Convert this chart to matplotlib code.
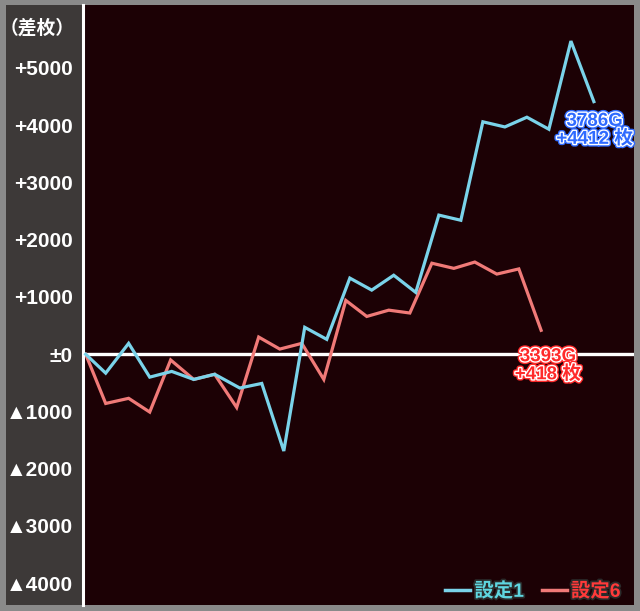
import matplotlib
matplotlib.use('Agg')
import matplotlib.pyplot as plt
import matplotlib.patheffects as pe
from matplotlib.patches import Rectangle
from matplotlib.lines import Line2D

plt.rcParams['font.family'] = ['Liberation Sans', 'Noto Sans CJK JP', 'DejaVu Sans']

# 設定1 (ゲーム数, 差枚)
g1 = [0, 149, 320, 477, 641, 805, 961, 1148, 1312, 1476, 1632, 1796, 1968, 2131,
      2295, 2459, 2631, 2795, 2959, 3123, 3287, 3451, 3615, 3786]
v1 = [0, -330, 190, -400, -300, -440, -350, -590, -510, -1690, 470, 260, 1330, 1120,
      1380, 1080, 2430, 2340, 4060, 3970, 4140, 3930, 5470, 4412]

# 設定6
g6 = [0, 149, 320, 477, 633, 805, 961, 1125, 1289, 1446, 1610, 1774, 1938, 2094,
      2258, 2415, 2579, 2743, 2899, 3063, 3227, 3393]
v6 = [0, -860, -770, -1010, -100, -440, -350, -930, 300, 90, 190, -440, 940, 660,
      770, 720, 1590, 1500, 1610, 1400, 1490, 418]

yticks = [5000, 4000, 3000, 2000, 1000, 0, -1000, -2000, -3000, -4000]
ylabels = ['+5000', '+4000', '+3000', '+2000', '+1000', '±0',
           '▲1000', '▲2000', '▲3000', '▲4000']

c1 = '#7ad3ea'
c6 = '#f07a78'

W, H = 640, 611
fig = plt.figure(figsize=(6.4, 6.11), dpi=100, facecolor='#8a8a8a')

# 左側の灰色パネル
fig.patches.append(Rectangle((6 / W, 6 / H), 78 / W, 600 / H, transform=fig.transFigure,
                             facecolor='#3d3938', edgecolor='none', zorder=-1))

ax = fig.add_axes([83 / W, 6 / H, 551 / W, 600 / H])
ax.set_facecolor('#1c0105')

ax.axhline(0, color='white', lw=2.4, zorder=1)
ax.plot(g1, v1, color=c1, lw=2.3, zorder=3, solid_joinstyle='miter')
ax.plot(g6, v6, color=c6, lw=2.3, zorder=2, solid_joinstyle='miter')

ax.set_xlim(-20, 4085)
ax.set_ylim(-4380, 6100)
ax.set_xticks([])
ax.set_yticks(yticks)
ax.set_yticklabels(ylabels)
ax.tick_params(axis='y', length=0, pad=7.5, labelcolor='white', labelsize=15)
for t in ax.get_yticklabels():
    t.set_fontweight('bold')

for s in ['top', 'right', 'bottom']:
    ax.spines[s].set_visible(False)
ax.spines['left'].set_color('white')
ax.spines['left'].set_linewidth(2.2)

fig.text(75 / W, 1 - 28 / H, '（差枚）', color='white', fontsize=13.5, ha='right', va='center',
         family=['Noto Sans CJK JP'], fontweight='bold')

# 最終値の注記
def note(x, y, txt, col):
    ax.annotate(txt, (x, y), xytext=(0, -8), textcoords='offset points',
                ha='center', va='top', color=col, fontsize=13.5, fontweight='bold',
                linespacing=1.0,
                path_effects=[pe.Stroke(linewidth=4, foreground=col),
                              pe.Stroke(linewidth=2, foreground='white'), pe.Normal()])

note(g1[-1] + 5, v1[-1], f'{g1[-1]}G\n+{v1[-1]} 枚', '#2f6bff')
note(g6[-1] + 50, 300, f'{g6[-1]}G\n+{v6[-1]} 枚', '#ff2a2a')

handles = [Line2D([], [], color=c1, lw=2.5), Line2D([], [], color=c6, lw=2.5)]
leg = ax.legend(handles, ['設定1', '設定6'], loc='lower right', ncol=2, frameon=False,
                handlelength=1.3, handletextpad=0.2, columnspacing=0.9,
                bbox_to_anchor=(0.99, -0.006), borderaxespad=0.0,
                prop={'weight': 'bold', 'size': 14,
                      'family': ['Liberation Sans', 'Noto Sans CJK JP']})
for t, c in zip(leg.get_texts(), ['#5fd6e0', '#ff3a3a']):
    t.set_color(c)
    t.set_path_effects([pe.Stroke(linewidth=2.5, foreground='#2a2a2a'), pe.Normal()])

fig.savefig('out.png', dpi=100, facecolor=fig.get_facecolor())
